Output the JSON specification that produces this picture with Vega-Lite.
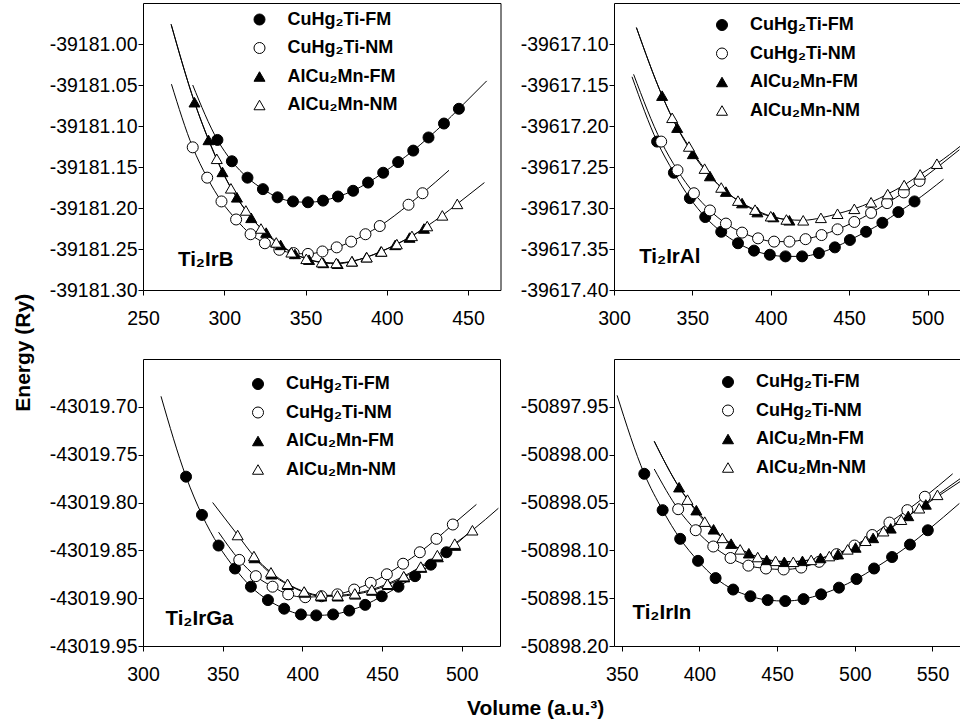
{
  "$schema": "https://vega.github.io/schema/vega-lite/v6.json",
  "background": "white",
  "padding": {"left": 12, "top": 2, "right": 0, "bottom": 0},
  "autosize": {"type": "pad"},
  "datasets": {
    "d": [
      {"p":"B","s":"CuHg₂Ti-FM","k":"x","v":280.6,"e":-39181.050},
      {"p":"B","s":"CuHg₂Ti-FM","k":"pt","v":295.8,"e":-39181.117},
      {"p":"B","s":"CuHg₂Ti-FM","k":"pt","v":304.7,"e":-39181.143},
      {"p":"B","s":"CuHg₂Ti-FM","k":"pt","v":314.3,"e":-39181.163},
      {"p":"B","s":"CuHg₂Ti-FM","k":"pt","v":323.8,"e":-39181.177},
      {"p":"B","s":"CuHg₂Ti-FM","k":"pt","v":332.8,"e":-39181.187},
      {"p":"B","s":"CuHg₂Ti-FM","k":"pt","v":342.3,"e":-39181.192},
      {"p":"B","s":"CuHg₂Ti-FM","k":"pt","v":351.5,"e":-39181.193},
      {"p":"B","s":"CuHg₂Ti-FM","k":"pt","v":360.8,"e":-39181.191},
      {"p":"B","s":"CuHg₂Ti-FM","k":"pt","v":370.0,"e":-39181.186},
      {"p":"B","s":"CuHg₂Ti-FM","k":"pt","v":379.3,"e":-39181.179},
      {"p":"B","s":"CuHg₂Ti-FM","k":"pt","v":388.5,"e":-39181.169},
      {"p":"B","s":"CuHg₂Ti-FM","k":"pt","v":397.8,"e":-39181.157},
      {"p":"B","s":"CuHg₂Ti-FM","k":"pt","v":407.0,"e":-39181.144},
      {"p":"B","s":"CuHg₂Ti-FM","k":"pt","v":416.3,"e":-39181.130},
      {"p":"B","s":"CuHg₂Ti-FM","k":"pt","v":425.7,"e":-39181.114},
      {"p":"B","s":"CuHg₂Ti-FM","k":"pt","v":435.2,"e":-39181.097},
      {"p":"B","s":"CuHg₂Ti-FM","k":"pt","v":444.4,"e":-39181.079},
      {"p":"B","s":"CuHg₂Ti-FM","k":"x","v":461.5,"e":-39181.045},

      {"p":"B","s":"CuHg₂Ti-NM","k":"x","v":267.5,"e":-39181.049},
      {"p":"B","s":"CuHg₂Ti-NM","k":"pt","v":280.6,"e":-39181.126},
      {"p":"B","s":"CuHg₂Ti-NM","k":"pt","v":289.5,"e":-39181.163},
      {"p":"B","s":"CuHg₂Ti-NM","k":"pt","v":298.3,"e":-39181.192},
      {"p":"B","s":"CuHg₂Ti-NM","k":"pt","v":307.3,"e":-39181.214},
      {"p":"B","s":"CuHg₂Ti-NM","k":"pt","v":316.2,"e":-39181.232},
      {"p":"B","s":"CuHg₂Ti-NM","k":"pt","v":325.0,"e":-39181.243},
      {"p":"B","s":"CuHg₂Ti-NM","k":"pt","v":333.9,"e":-39181.251},
      {"p":"B","s":"CuHg₂Ti-NM","k":"pt","v":342.7,"e":-39181.255},
      {"p":"B","s":"CuHg₂Ti-NM","k":"pt","v":351.5,"e":-39181.256},
      {"p":"B","s":"CuHg₂Ti-NM","k":"pt","v":360.4,"e":-39181.253},
      {"p":"B","s":"CuHg₂Ti-NM","k":"pt","v":369.2,"e":-39181.248},
      {"p":"B","s":"CuHg₂Ti-NM","k":"pt","v":378.1,"e":-39181.241},
      {"p":"B","s":"CuHg₂Ti-NM","k":"pt","v":386.9,"e":-39181.232},
      {"p":"B","s":"CuHg₂Ti-NM","k":"pt","v":395.7,"e":-39181.222},
      {"p":"B","s":"CuHg₂Ti-NM","k":"pt","v":413.4,"e":-39181.196},
      {"p":"B","s":"CuHg₂Ti-NM","k":"pt","v":422.0,"e":-39181.182},
      {"p":"B","s":"CuHg₂Ti-NM","k":"x","v":438.3,"e":-39181.154},

      {"p":"B","s":"AlCu₂Mn-FM","k":"x","v":267.3,"e":-39180.976},
      {"p":"B","s":"AlCu₂Mn-FM","k":"pt","v":281.7,"e":-39181.071},
      {"p":"B","s":"AlCu₂Mn-FM","k":"pt","v":290.3,"e":-39181.117},
      {"p":"B","s":"AlCu₂Mn-FM","k":"pt","v":298.9,"e":-39181.156},
      {"p":"B","s":"AlCu₂Mn-FM","k":"pt","v":307.8,"e":-39181.187},
      {"p":"B","s":"AlCu₂Mn-FM","k":"pt","v":316.6,"e":-39181.212},
      {"p":"B","s":"AlCu₂Mn-FM","k":"pt","v":325.8,"e":-39181.230},
      {"p":"B","s":"AlCu₂Mn-FM","k":"pt","v":334.7,"e":-39181.245},
      {"p":"B","s":"AlCu₂Mn-FM","k":"pt","v":343.5,"e":-39181.256},
      {"p":"B","s":"AlCu₂Mn-FM","k":"pt","v":352.2,"e":-39181.263},
      {"p":"B","s":"AlCu₂Mn-FM","k":"pt","v":361.0,"e":-39181.267},
      {"p":"B","s":"AlCu₂Mn-FM","k":"pt","v":369.8,"e":-39181.268},
      {"p":"B","s":"AlCu₂Mn-FM","k":"pt","v":378.7,"e":-39181.265},
      {"p":"B","s":"AlCu₂Mn-FM","k":"pt","v":387.5,"e":-39181.260},
      {"p":"B","s":"AlCu₂Mn-FM","k":"pt","v":396.4,"e":-39181.253},
      {"p":"B","s":"AlCu₂Mn-FM","k":"pt","v":405.2,"e":-39181.245},
      {"p":"B","s":"AlCu₂Mn-FM","k":"pt","v":414.0,"e":-39181.236},
      {"p":"B","s":"AlCu₂Mn-FM","k":"pt","v":422.9,"e":-39181.225},

      {"p":"B","s":"AlCu₂Mn-NM","k":"x","v":267.3,"e":-39180.976},
      {"p":"B","s":"AlCu₂Mn-NM","k":"x","v":281.7,"e":-39181.071},
      {"p":"B","s":"AlCu₂Mn-NM","k":"pt","v":295.4,"e":-39181.140},
      {"p":"B","s":"AlCu₂Mn-NM","k":"pt","v":304.1,"e":-39181.176},
      {"p":"B","s":"AlCu₂Mn-NM","k":"pt","v":313.3,"e":-39181.203},
      {"p":"B","s":"AlCu₂Mn-NM","k":"pt","v":322.6,"e":-39181.225},
      {"p":"B","s":"AlCu₂Mn-NM","k":"pt","v":332.0,"e":-39181.242},
      {"p":"B","s":"AlCu₂Mn-NM","k":"pt","v":341.3,"e":-39181.254},
      {"p":"B","s":"AlCu₂Mn-NM","k":"pt","v":350.5,"e":-39181.262},
      {"p":"B","s":"AlCu₂Mn-NM","k":"pt","v":360.0,"e":-39181.266},
      {"p":"B","s":"AlCu₂Mn-NM","k":"pt","v":369.0,"e":-39181.267},
      {"p":"B","s":"AlCu₂Mn-NM","k":"pt","v":378.5,"e":-39181.265},
      {"p":"B","s":"AlCu₂Mn-NM","k":"pt","v":387.7,"e":-39181.260},
      {"p":"B","s":"AlCu₂Mn-NM","k":"pt","v":396.8,"e":-39181.253},
      {"p":"B","s":"AlCu₂Mn-NM","k":"pt","v":406.2,"e":-39181.244},
      {"p":"B","s":"AlCu₂Mn-NM","k":"pt","v":415.5,"e":-39181.234},
      {"p":"B","s":"AlCu₂Mn-NM","k":"pt","v":424.9,"e":-39181.222},
      {"p":"B","s":"AlCu₂Mn-NM","k":"pt","v":434.2,"e":-39181.209},
      {"p":"B","s":"AlCu₂Mn-NM","k":"pt","v":443.4,"e":-39181.195},
      {"p":"B","s":"AlCu₂Mn-NM","k":"x","v":460.1,"e":-39181.169},

      {"p":"Al","s":"CuHg₂Ti-FM","k":"x","v":311.5,"e":-39617.140},
      {"p":"Al","s":"CuHg₂Ti-FM","k":"pt","v":327.5,"e":-39617.219},
      {"p":"Al","s":"CuHg₂Ti-FM","k":"pt","v":338.2,"e":-39617.257},
      {"p":"Al","s":"CuHg₂Ti-FM","k":"pt","v":348.4,"e":-39617.288},
      {"p":"Al","s":"CuHg₂Ti-FM","k":"pt","v":358.2,"e":-39617.311},
      {"p":"Al","s":"CuHg₂Ti-FM","k":"pt","v":368.4,"e":-39617.329},
      {"p":"Al","s":"CuHg₂Ti-FM","k":"pt","v":379.1,"e":-39617.343},
      {"p":"Al","s":"CuHg₂Ti-FM","k":"pt","v":389.3,"e":-39617.352},
      {"p":"Al","s":"CuHg₂Ti-FM","k":"pt","v":399.4,"e":-39617.357},
      {"p":"Al","s":"CuHg₂Ti-FM","k":"pt","v":409.4,"e":-39617.359},
      {"p":"Al","s":"CuHg₂Ti-FM","k":"pt","v":420.0,"e":-39617.359},
      {"p":"Al","s":"CuHg₂Ti-FM","k":"pt","v":430.7,"e":-39617.355},
      {"p":"Al","s":"CuHg₂Ti-FM","k":"pt","v":440.9,"e":-39617.348},
      {"p":"Al","s":"CuHg₂Ti-FM","k":"pt","v":450.5,"e":-39617.339},
      {"p":"Al","s":"CuHg₂Ti-FM","k":"pt","v":460.8,"e":-39617.329},
      {"p":"Al","s":"CuHg₂Ti-FM","k":"pt","v":471.2,"e":-39617.318},
      {"p":"Al","s":"CuHg₂Ti-FM","k":"pt","v":481.4,"e":-39617.305},
      {"p":"Al","s":"CuHg₂Ti-FM","k":"pt","v":491.7,"e":-39617.292},
      {"p":"Al","s":"CuHg₂Ti-FM","k":"x","v":510.2,"e":-39617.265},

      {"p":"Al","s":"CuHg₂Ti-NM","k":"x","v":312.5,"e":-39617.137},
      {"p":"Al","s":"CuHg₂Ti-NM","k":"pt","v":330.1,"e":-39617.219},
      {"p":"Al","s":"CuHg₂Ti-NM","k":"pt","v":340.5,"e":-39617.254},
      {"p":"Al","s":"CuHg₂Ti-NM","k":"pt","v":351.0,"e":-39617.282},
      {"p":"Al","s":"CuHg₂Ti-NM","k":"pt","v":361.2,"e":-39617.303},
      {"p":"Al","s":"CuHg₂Ti-NM","k":"pt","v":371.4,"e":-39617.319},
      {"p":"Al","s":"CuHg₂Ti-NM","k":"pt","v":381.7,"e":-39617.330},
      {"p":"Al","s":"CuHg₂Ti-NM","k":"pt","v":391.9,"e":-39617.337},
      {"p":"Al","s":"CuHg₂Ti-NM","k":"pt","v":402.1,"e":-39617.341},
      {"p":"Al","s":"CuHg₂Ti-NM","k":"pt","v":411.9,"e":-39617.341},
      {"p":"Al","s":"CuHg₂Ti-NM","k":"pt","v":422.2,"e":-39617.338},
      {"p":"Al","s":"CuHg₂Ti-NM","k":"pt","v":432.4,"e":-39617.333},
      {"p":"Al","s":"CuHg₂Ti-NM","k":"pt","v":442.6,"e":-39617.326},
      {"p":"Al","s":"CuHg₂Ti-NM","k":"pt","v":453.3,"e":-39617.317},
      {"p":"Al","s":"CuHg₂Ti-NM","k":"pt","v":464.0,"e":-39617.306},
      {"p":"Al","s":"CuHg₂Ti-NM","k":"pt","v":474.2,"e":-39617.294},
      {"p":"Al","s":"CuHg₂Ti-NM","k":"pt","v":484.9,"e":-39617.281},
      {"p":"Al","s":"CuHg₂Ti-NM","k":"pt","v":494.9,"e":-39617.267},
      {"p":"Al","s":"CuHg₂Ti-NM","k":"x","v":520.3,"e":-39617.229},

      {"p":"Al","s":"AlCu₂Mn-FM","k":"x","v":314.3,"e":-39617.080},
      {"p":"Al","s":"AlCu₂Mn-FM","k":"pt","v":330.7,"e":-39617.163},
      {"p":"Al","s":"AlCu₂Mn-FM","k":"pt","v":340.3,"e":-39617.202},
      {"p":"Al","s":"AlCu₂Mn-FM","k":"pt","v":350.3,"e":-39617.234},
      {"p":"Al","s":"AlCu₂Mn-FM","k":"pt","v":361.2,"e":-39617.261},
      {"p":"Al","s":"AlCu₂Mn-FM","k":"pt","v":371.4,"e":-39617.280},
      {"p":"Al","s":"AlCu₂Mn-FM","k":"pt","v":381.7,"e":-39617.294},
      {"p":"Al","s":"AlCu₂Mn-FM","k":"pt","v":391.5,"e":-39617.305},
      {"p":"Al","s":"AlCu₂Mn-FM","k":"pt","v":401.7,"e":-39617.311},
      {"p":"Al","s":"AlCu₂Mn-FM","k":"pt","v":411.9,"e":-39617.315},

      {"p":"Al","s":"AlCu₂Mn-NM","k":"x","v":314.3,"e":-39617.080},
      {"p":"Al","s":"AlCu₂Mn-NM","k":"x","v":330.7,"e":-39617.163},
      {"p":"Al","s":"AlCu₂Mn-NM","k":"pt","v":337.1,"e":-39617.190},
      {"p":"Al","s":"AlCu₂Mn-NM","k":"pt","v":347.8,"e":-39617.225},
      {"p":"Al","s":"AlCu₂Mn-NM","k":"pt","v":357.8,"e":-39617.252},
      {"p":"Al","s":"AlCu₂Mn-NM","k":"pt","v":368.4,"e":-39617.275},
      {"p":"Al","s":"AlCu₂Mn-NM","k":"pt","v":379.1,"e":-39617.291},
      {"p":"Al","s":"AlCu₂Mn-NM","k":"pt","v":390.0,"e":-39617.302},
      {"p":"Al","s":"AlCu₂Mn-NM","k":"pt","v":400.0,"e":-39617.310},
      {"p":"Al","s":"AlCu₂Mn-NM","k":"pt","v":410.0,"e":-39617.314},
      {"p":"Al","s":"AlCu₂Mn-NM","k":"pt","v":420.7,"e":-39617.315},
      {"p":"Al","s":"AlCu₂Mn-NM","k":"pt","v":432.0,"e":-39617.312},
      {"p":"Al","s":"AlCu₂Mn-NM","k":"pt","v":442.6,"e":-39617.307},
      {"p":"Al","s":"AlCu₂Mn-NM","k":"pt","v":453.3,"e":-39617.301},
      {"p":"Al","s":"AlCu₂Mn-NM","k":"pt","v":464.0,"e":-39617.293},
      {"p":"Al","s":"AlCu₂Mn-NM","k":"pt","v":474.6,"e":-39617.283},
      {"p":"Al","s":"AlCu₂Mn-NM","k":"pt","v":485.1,"e":-39617.272},
      {"p":"Al","s":"AlCu₂Mn-NM","k":"pt","v":495.3,"e":-39617.259},
      {"p":"Al","s":"AlCu₂Mn-NM","k":"pt","v":506.0,"e":-39617.246},
      {"p":"Al","s":"AlCu₂Mn-NM","k":"x","v":522.0,"e":-39617.223},

      {"p":"Ga","s":"CuHg₂Ti-FM","k":"x","v":311.3,"e":-43019.689},
      {"p":"Ga","s":"CuHg₂Ti-FM","k":"pt","v":327.0,"e":-43019.773},
      {"p":"Ga","s":"CuHg₂Ti-FM","k":"pt","v":337.0,"e":-43019.813},
      {"p":"Ga","s":"CuHg₂Ti-FM","k":"pt","v":347.4,"e":-43019.845},
      {"p":"Ga","s":"CuHg₂Ti-FM","k":"pt","v":357.7,"e":-43019.869},
      {"p":"Ga","s":"CuHg₂Ti-FM","k":"pt","v":367.7,"e":-43019.888},
      {"p":"Ga","s":"CuHg₂Ti-FM","k":"pt","v":378.4,"e":-43019.902},
      {"p":"Ga","s":"CuHg₂Ti-FM","k":"pt","v":388.6,"e":-43019.911},
      {"p":"Ga","s":"CuHg₂Ti-FM","k":"pt","v":399.1,"e":-43019.917},
      {"p":"Ga","s":"CuHg₂Ti-FM","k":"pt","v":408.7,"e":-43019.918},
      {"p":"Ga","s":"CuHg₂Ti-FM","k":"pt","v":419.3,"e":-43019.917},
      {"p":"Ga","s":"CuHg₂Ti-FM","k":"pt","v":429.4,"e":-43019.913},
      {"p":"Ga","s":"CuHg₂Ti-FM","k":"pt","v":439.4,"e":-43019.907},
      {"p":"Ga","s":"CuHg₂Ti-FM","k":"pt","v":449.8,"e":-43019.898},
      {"p":"Ga","s":"CuHg₂Ti-FM","k":"pt","v":460.3,"e":-43019.888},
      {"p":"Ga","s":"CuHg₂Ti-FM","k":"pt","v":470.7,"e":-43019.877},
      {"p":"Ga","s":"CuHg₂Ti-FM","k":"pt","v":480.6,"e":-43019.865},
      {"p":"Ga","s":"CuHg₂Ti-FM","k":"pt","v":490.4,"e":-43019.852},
      {"p":"Ga","s":"CuHg₂Ti-FM","k":"x","v":505.0,"e":-43019.831},

      {"p":"Ga","s":"CuHg₂Ti-NM","k":"x","v":347.4,"e":-43019.831},
      {"p":"Ga","s":"CuHg₂Ti-NM","k":"pt","v":360.4,"e":-43019.860},
      {"p":"Ga","s":"CuHg₂Ti-NM","k":"pt","v":370.8,"e":-43019.877},
      {"p":"Ga","s":"CuHg₂Ti-NM","k":"pt","v":381.3,"e":-43019.888},
      {"p":"Ga","s":"CuHg₂Ti-NM","k":"pt","v":391.1,"e":-43019.896},
      {"p":"Ga","s":"CuHg₂Ti-NM","k":"pt","v":401.8,"e":-43019.899},
      {"p":"Ga","s":"CuHg₂Ti-NM","k":"pt","v":412.0,"e":-43019.898},
      {"p":"Ga","s":"CuHg₂Ti-NM","k":"pt","v":422.0,"e":-43019.896},
      {"p":"Ga","s":"CuHg₂Ti-NM","k":"pt","v":432.5,"e":-43019.891},
      {"p":"Ga","s":"CuHg₂Ti-NM","k":"pt","v":442.9,"e":-43019.884},
      {"p":"Ga","s":"CuHg₂Ti-NM","k":"pt","v":453.0,"e":-43019.875},
      {"p":"Ga","s":"CuHg₂Ti-NM","k":"pt","v":463.2,"e":-43019.864},
      {"p":"Ga","s":"CuHg₂Ti-NM","k":"pt","v":473.7,"e":-43019.852},
      {"p":"Ga","s":"CuHg₂Ti-NM","k":"pt","v":484.1,"e":-43019.838},
      {"p":"Ga","s":"CuHg₂Ti-NM","k":"pt","v":494.4,"e":-43019.823},
      {"p":"Ga","s":"CuHg₂Ti-NM","k":"x","v":509.2,"e":-43019.802},

      {"p":"Ga","s":"AlCu₂Mn-FM","k":"pt","v":370.0,"e":-43019.858},
      {"p":"Ga","s":"AlCu₂Mn-FM","k":"pt","v":380.6,"e":-43019.875},
      {"p":"Ga","s":"AlCu₂Mn-FM","k":"pt","v":391.0,"e":-43019.886},
      {"p":"Ga","s":"AlCu₂Mn-FM","k":"pt","v":401.4,"e":-43019.894},
      {"p":"Ga","s":"AlCu₂Mn-FM","k":"pt","v":411.9,"e":-43019.898},
      {"p":"Ga","s":"AlCu₂Mn-FM","k":"pt","v":422.3,"e":-43019.898},
      {"p":"Ga","s":"AlCu₂Mn-FM","k":"pt","v":433.2,"e":-43019.896},
      {"p":"Ga","s":"AlCu₂Mn-FM","k":"pt","v":443.9,"e":-43019.892},
      {"p":"Ga","s":"AlCu₂Mn-FM","k":"pt","v":453.7,"e":-43019.886},
      {"p":"Ga","s":"AlCu₂Mn-FM","k":"pt","v":463.9,"e":-43019.878},
      {"p":"Ga","s":"AlCu₂Mn-FM","k":"pt","v":474.6,"e":-43019.868},
      {"p":"Ga","s":"AlCu₂Mn-FM","k":"pt","v":485.0,"e":-43019.857},
      {"p":"Ga","s":"AlCu₂Mn-FM","k":"pt","v":495.9,"e":-43019.845},

      {"p":"Ga","s":"AlCu₂Mn-NM","k":"x","v":343.7,"e":-43019.800},
      {"p":"Ga","s":"AlCu₂Mn-NM","k":"pt","v":359.4,"e":-43019.834},
      {"p":"Ga","s":"AlCu₂Mn-NM","k":"pt","v":369.6,"e":-43019.856},
      {"p":"Ga","s":"AlCu₂Mn-NM","k":"pt","v":380.3,"e":-43019.873},
      {"p":"Ga","s":"AlCu₂Mn-NM","k":"pt","v":390.7,"e":-43019.885},
      {"p":"Ga","s":"AlCu₂Mn-NM","k":"pt","v":401.1,"e":-43019.893},
      {"p":"Ga","s":"AlCu₂Mn-NM","k":"pt","v":411.6,"e":-43019.897},
      {"p":"Ga","s":"AlCu₂Mn-NM","k":"pt","v":422.0,"e":-43019.897},
      {"p":"Ga","s":"AlCu₂Mn-NM","k":"pt","v":432.9,"e":-43019.895},
      {"p":"Ga","s":"AlCu₂Mn-NM","k":"pt","v":443.6,"e":-43019.891},
      {"p":"Ga","s":"AlCu₂Mn-NM","k":"pt","v":453.4,"e":-43019.885},
      {"p":"Ga","s":"AlCu₂Mn-NM","k":"pt","v":463.6,"e":-43019.877},
      {"p":"Ga","s":"AlCu₂Mn-NM","k":"pt","v":474.3,"e":-43019.867},
      {"p":"Ga","s":"AlCu₂Mn-NM","k":"pt","v":484.7,"e":-43019.855},
      {"p":"Ga","s":"AlCu₂Mn-NM","k":"pt","v":495.6,"e":-43019.843},
      {"p":"Ga","s":"AlCu₂Mn-NM","k":"pt","v":506.7,"e":-43019.829},
      {"p":"Ga","s":"AlCu₂Mn-NM","k":"x","v":523.0,"e":-43019.806},

      {"p":"In","s":"CuHg₂Ti-FM","k":"x","v":347.0,"e":-50897.938},
      {"p":"In","s":"CuHg₂Ti-FM","k":"pt","v":364.5,"e":-50898.020},
      {"p":"In","s":"CuHg₂Ti-FM","k":"pt","v":376.3,"e":-50898.058},
      {"p":"In","s":"CuHg₂Ti-FM","k":"pt","v":387.6,"e":-50898.088},
      {"p":"In","s":"CuHg₂Ti-FM","k":"pt","v":399.1,"e":-50898.111},
      {"p":"In","s":"CuHg₂Ti-FM","k":"pt","v":410.4,"e":-50898.129},
      {"p":"In","s":"CuHg₂Ti-FM","k":"pt","v":421.7,"e":-50898.141},
      {"p":"In","s":"CuHg₂Ti-FM","k":"pt","v":432.8,"e":-50898.148},
      {"p":"In","s":"CuHg₂Ti-FM","k":"pt","v":443.9,"e":-50898.152},
      {"p":"In","s":"CuHg₂Ti-FM","k":"pt","v":455.2,"e":-50898.153},
      {"p":"In","s":"CuHg₂Ti-FM","k":"pt","v":467.0,"e":-50898.151},
      {"p":"In","s":"CuHg₂Ti-FM","k":"pt","v":478.3,"e":-50898.146},
      {"p":"In","s":"CuHg₂Ti-FM","k":"pt","v":489.8,"e":-50898.139},
      {"p":"In","s":"CuHg₂Ti-FM","k":"pt","v":501.1,"e":-50898.130},
      {"p":"In","s":"CuHg₂Ti-FM","k":"pt","v":512.4,"e":-50898.119},
      {"p":"In","s":"CuHg₂Ti-FM","k":"pt","v":524.0,"e":-50898.107},
      {"p":"In","s":"CuHg₂Ti-FM","k":"pt","v":535.5,"e":-50898.094},
      {"p":"In","s":"CuHg₂Ti-FM","k":"pt","v":547.0,"e":-50898.079},
      {"p":"In","s":"CuHg₂Ti-FM","k":"x","v":567.3,"e":-50898.051},

      {"p":"In","s":"CuHg₂Ti-NM","k":"x","v":370.9,"e":-50898.015},
      {"p":"In","s":"CuHg₂Ti-NM","k":"pt","v":386.3,"e":-50898.057},
      {"p":"In","s":"CuHg₂Ti-NM","k":"pt","v":397.6,"e":-50898.079},
      {"p":"In","s":"CuHg₂Ti-NM","k":"pt","v":408.9,"e":-50898.096},
      {"p":"In","s":"CuHg₂Ti-NM","k":"pt","v":420.0,"e":-50898.108},
      {"p":"In","s":"CuHg₂Ti-NM","k":"pt","v":431.5,"e":-50898.116},
      {"p":"In","s":"CuHg₂Ti-NM","k":"pt","v":442.8,"e":-50898.119},
      {"p":"In","s":"CuHg₂Ti-NM","k":"pt","v":454.2,"e":-50898.120},
      {"p":"In","s":"CuHg₂Ti-NM","k":"pt","v":465.5,"e":-50898.118},
      {"p":"In","s":"CuHg₂Ti-NM","k":"pt","v":477.0,"e":-50898.112},
      {"p":"In","s":"CuHg₂Ti-NM","k":"pt","v":488.3,"e":-50898.104},
      {"p":"In","s":"CuHg₂Ti-NM","k":"pt","v":499.8,"e":-50898.095},
      {"p":"In","s":"CuHg₂Ti-NM","k":"pt","v":511.2,"e":-50898.084},
      {"p":"In","s":"CuHg₂Ti-NM","k":"pt","v":522.3,"e":-50898.071},
      {"p":"In","s":"CuHg₂Ti-NM","k":"pt","v":533.8,"e":-50898.058},
      {"p":"In","s":"CuHg₂Ti-NM","k":"pt","v":545.1,"e":-50898.044},
      {"p":"In","s":"CuHg₂Ti-NM","k":"x","v":563.0,"e":-50898.020},

      {"p":"In","s":"AlCu₂Mn-FM","k":"x","v":370.9,"e":-50897.986},
      {"p":"In","s":"AlCu₂Mn-FM","k":"pt","v":386.9,"e":-50898.034},
      {"p":"In","s":"AlCu₂Mn-FM","k":"pt","v":398.0,"e":-50898.058},
      {"p":"In","s":"AlCu₂Mn-FM","k":"pt","v":409.1,"e":-50898.078},
      {"p":"In","s":"AlCu₂Mn-FM","k":"pt","v":420.4,"e":-50898.093},
      {"p":"In","s":"AlCu₂Mn-FM","k":"pt","v":431.8,"e":-50898.103},
      {"p":"In","s":"AlCu₂Mn-FM","k":"pt","v":443.3,"e":-50898.110},
      {"p":"In","s":"AlCu₂Mn-FM","k":"pt","v":454.6,"e":-50898.112},
      {"p":"In","s":"AlCu₂Mn-FM","k":"pt","v":466.3,"e":-50898.111},
      {"p":"In","s":"AlCu₂Mn-FM","k":"pt","v":477.9,"e":-50898.108},
      {"p":"In","s":"AlCu₂Mn-FM","k":"pt","v":489.2,"e":-50898.104},
      {"p":"In","s":"AlCu₂Mn-FM","k":"pt","v":500.5,"e":-50898.097},
      {"p":"In","s":"AlCu₂Mn-FM","k":"pt","v":511.8,"e":-50898.087},
      {"p":"In","s":"AlCu₂Mn-FM","k":"pt","v":523.1,"e":-50898.077},
      {"p":"In","s":"AlCu₂Mn-FM","k":"pt","v":534.4,"e":-50898.064},
      {"p":"In","s":"AlCu₂Mn-FM","k":"pt","v":545.7,"e":-50898.052},
      {"p":"In","s":"AlCu₂Mn-FM","k":"x","v":568.8,"e":-50898.027},

      {"p":"In","s":"AlCu₂Mn-NM","k":"x","v":370.9,"e":-50897.986},
      {"p":"In","s":"AlCu₂Mn-NM","k":"x","v":386.9,"e":-50898.034},
      {"p":"In","s":"AlCu₂Mn-NM","k":"pt","v":392.3,"e":-50898.047},
      {"p":"In","s":"AlCu₂Mn-NM","k":"pt","v":403.4,"e":-50898.070},
      {"p":"In","s":"AlCu₂Mn-NM","k":"pt","v":414.7,"e":-50898.087},
      {"p":"In","s":"AlCu₂Mn-NM","k":"pt","v":426.2,"e":-50898.099},
      {"p":"In","s":"AlCu₂Mn-NM","k":"pt","v":437.5,"e":-50898.107},
      {"p":"In","s":"AlCu₂Mn-NM","k":"pt","v":449.0,"e":-50898.111},
      {"p":"In","s":"AlCu₂Mn-NM","k":"pt","v":460.4,"e":-50898.112},
      {"p":"In","s":"AlCu₂Mn-NM","k":"pt","v":471.9,"e":-50898.110},
      {"p":"In","s":"AlCu₂Mn-NM","k":"pt","v":483.6,"e":-50898.106},
      {"p":"In","s":"AlCu₂Mn-NM","k":"pt","v":495.4,"e":-50898.099},
      {"p":"In","s":"AlCu₂Mn-NM","k":"pt","v":506.9,"e":-50898.090},
      {"p":"In","s":"AlCu₂Mn-NM","k":"pt","v":518.4,"e":-50898.080},
      {"p":"In","s":"AlCu₂Mn-NM","k":"pt","v":529.9,"e":-50898.068},
      {"p":"In","s":"AlCu₂Mn-NM","k":"pt","v":541.5,"e":-50898.056},
      {"p":"In","s":"AlCu₂Mn-NM","k":"pt","v":553.2,"e":-50898.042},
      {"p":"In","s":"AlCu₂Mn-NM","k":"x","v":568.8,"e":-50898.024}
    ]
  },
  "title": {"text": "Energy (Ry)", "orient": "left", "anchor": "middle", "offset": 15, "dx": 8, "font": "Liberation Sans", "fontSize": 21, "fontWeight": "bold", "color": "black"},
  "resolve": {"scale": {"x": "independent", "y": "independent", "fill": "independent", "shape": "independent", "stroke": "independent"}, "axis": {"x": "independent", "y": "independent"}, "legend": {"fill": "independent", "shape": "independent", "stroke": "independent"}},
  "hconcat": [
    {
      "title": {"text": "Volume (a.u.³)", "orient": "bottom", "anchor": "middle", "offset": 14, "dx": 30, "font": "Liberation Sans", "fontSize": 21, "fontWeight": "bold", "color": "black"},
      "spacing": 30,
      "resolve": {"scale": {"x": "independent", "y": "independent", "fill": "independent", "shape": "independent", "stroke": "independent"}, "axis": {"x": "independent", "y": "independent"}, "legend": {"fill": "independent", "shape": "independent", "stroke": "independent"}},
      "vconcat": [
        {
          "spacing": 18,
          "resolve": {"scale": {"x": "independent", "y": "independent", "fill": "independent", "shape": "independent", "stroke": "independent"}, "axis": {"x": "independent", "y": "independent"}, "legend": {"fill": "independent", "shape": "independent", "stroke": "independent"}},
          "hconcat": [
            {
              "width": 357.5, "height": 287,
              "encoding": {
                "x": {"field": "v", "type": "quantitative", "scale": {"domain": [250, 470], "nice": false, "zero": false}, "axis": {"values": [250, 300, 350, 400, 450], "title": "Ti₂IrB", "titleX": 34.5, "titleY": -24.5}},
                "y": {"field": "e", "type": "quantitative", "scale": {"domain": [-39181.30, -39180.95], "nice": false, "zero": false}, "axis": {"values": [-39181.30, -39181.25, -39181.20, -39181.15, -39181.10, -39181.05, -39181.00], "format": ".2f", "title": null}}
              },
              "layer": [
                {"data": {"name": "d"}, "transform": [{"filter": "datum.p === 'B'"}],
                 "mark": {"type": "line", "interpolate": "monotone", "color": "black", "strokeWidth": 1, "clip": true},
                 "encoding": {"detail": {"field": "s"}}},
                {"data": {"name": "d"}, "transform": [{"filter": "datum.p === 'B' && datum.k === 'pt'"}],
                 "mark": {"type": "point", "filled": true, "strokeWidth": 1, "opacity": 1, "size": 121},
                 "encoding": {
                   "stroke": {"field": "s", "type": "nominal", "scale": {"domain": ["CuHg₂Ti-FM", "CuHg₂Ti-NM", "AlCu₂Mn-FM", "AlCu₂Mn-NM"], "range": ["black", "black", "black", "black"]}, "legend": {"title": null, "orient": "none", "legendX": 107.5, "legendY": 7.5}},
                   "shape": {"field": "s", "type": "nominal", "scale": {"domain": ["CuHg₂Ti-FM", "CuHg₂Ti-NM", "AlCu₂Mn-FM", "AlCu₂Mn-NM"], "range": ["circle", "circle", "triangle-up", "triangle-up"]}, "legend": {"title": null, "orient": "none", "legendX": 107.5, "legendY": 7.5}},
                   "fill": {"field": "s", "type": "nominal", "scale": {"domain": ["CuHg₂Ti-FM", "CuHg₂Ti-NM", "AlCu₂Mn-FM", "AlCu₂Mn-NM"], "range": ["black", "white", "black", "white"]}, "legend": {"title": null, "orient": "none", "legendX": 107.5, "legendY": 7.5}}
                 }}
              ]
            },
            {
              "width": 348, "height": 287,
              "encoding": {
                "x": {"field": "v", "type": "quantitative", "scale": {"domain": [300, 522], "nice": false, "zero": false}, "axis": {"values": [300, 350, 400, 450, 500], "title": "Ti₂IrAl", "titleX": 24.7, "titleY": -27.8}},
                "y": {"field": "e", "type": "quantitative", "scale": {"domain": [-39617.40, -39617.05], "nice": false, "zero": false}, "axis": {"values": [-39617.40, -39617.35, -39617.30, -39617.25, -39617.20, -39617.15, -39617.10], "format": ".2f", "title": null}}
              },
              "layer": [
                {"data": {"name": "d"}, "transform": [{"filter": "datum.p === 'Al'"}],
                 "mark": {"type": "line", "interpolate": "monotone", "color": "black", "strokeWidth": 1, "clip": true},
                 "encoding": {"detail": {"field": "s"}}},
                {"data": {"name": "d"}, "transform": [{"filter": "datum.p === 'Al' && datum.k === 'pt'"}],
                 "mark": {"type": "point", "filled": true, "strokeWidth": 1, "opacity": 1, "size": 121},
                 "encoding": {
                   "stroke": {"field": "s", "type": "nominal", "scale": {"domain": ["CuHg₂Ti-FM", "CuHg₂Ti-NM", "AlCu₂Mn-FM", "AlCu₂Mn-NM"], "range": ["black", "black", "black", "black"]}, "legend": {"title": null, "orient": "none", "legendX": 99, "legendY": 13}},
                   "shape": {"field": "s", "type": "nominal", "scale": {"domain": ["CuHg₂Ti-FM", "CuHg₂Ti-NM", "AlCu₂Mn-FM", "AlCu₂Mn-NM"], "range": ["circle", "circle", "triangle-up", "triangle-up"]}, "legend": {"title": null, "orient": "none", "legendX": 99, "legendY": 13}},
                   "fill": {"field": "s", "type": "nominal", "scale": {"domain": ["CuHg₂Ti-FM", "CuHg₂Ti-NM", "AlCu₂Mn-FM", "AlCu₂Mn-NM"], "range": ["black", "white", "black", "white"]}, "legend": {"title": null, "orient": "none", "legendX": 99, "legendY": 13}}
                 }}
              ]
            }
          ]
        },
        {
          "spacing": 18,
          "resolve": {"scale": {"x": "independent", "y": "independent", "fill": "independent", "shape": "independent", "stroke": "independent"}, "axis": {"x": "independent", "y": "independent"}, "legend": {"fill": "independent", "shape": "independent", "stroke": "independent"}},
          "hconcat": [
            {
              "width": 357, "height": 287,
              "encoding": {
                "x": {"field": "v", "type": "quantitative", "scale": {"domain": [300, 524], "nice": false, "zero": false}, "axis": {"values": [300, 350, 400, 450, 500], "title": "Ti₂IrGa", "titleX": 22, "titleY": -21.7}},
                "y": {"field": "e", "type": "quantitative", "scale": {"domain": [-43019.95, -43019.65], "nice": false, "zero": false}, "axis": {"values": [-43019.95, -43019.90, -43019.85, -43019.80, -43019.75, -43019.70], "format": ".2f", "title": null}}
              },
              "layer": [
                {"data": {"name": "d"}, "transform": [{"filter": "datum.p === 'Ga'"}],
                 "mark": {"type": "line", "interpolate": "monotone", "color": "black", "strokeWidth": 1, "clip": true},
                 "encoding": {"detail": {"field": "s"}}},
                {"data": {"name": "d"}, "transform": [{"filter": "datum.p === 'Ga' && datum.k === 'pt'"}],
                 "mark": {"type": "point", "filled": true, "strokeWidth": 1, "opacity": 1, "size": 121},
                 "encoding": {
                   "stroke": {"field": "s", "type": "nominal", "scale": {"domain": ["CuHg₂Ti-FM", "CuHg₂Ti-NM", "AlCu₂Mn-FM", "AlCu₂Mn-NM"], "range": ["black", "black", "black", "black"]}, "legend": {"title": null, "orient": "none", "legendX": 106, "legendY": 16}},
                   "shape": {"field": "s", "type": "nominal", "scale": {"domain": ["CuHg₂Ti-FM", "CuHg₂Ti-NM", "AlCu₂Mn-FM", "AlCu₂Mn-NM"], "range": ["circle", "circle", "triangle-up", "triangle-up"]}, "legend": {"title": null, "orient": "none", "legendX": 106, "legendY": 16}},
                   "fill": {"field": "s", "type": "nominal", "scale": {"domain": ["CuHg₂Ti-FM", "CuHg₂Ti-NM", "AlCu₂Mn-FM", "AlCu₂Mn-NM"], "range": ["black", "white", "black", "white"]}, "legend": {"title": null, "orient": "none", "legendX": 106, "legendY": 16}}
                 }}
              ]
            },
            {
              "width": 348, "height": 287,
              "encoding": {
                "x": {"field": "v", "type": "quantitative", "scale": {"domain": [345, 569], "nice": false, "zero": false}, "axis": {"values": [350, 400, 450, 500, 550], "title": "Ti₂IrIn", "titleX": 18, "titleY": -27.7}},
                "y": {"field": "e", "type": "quantitative", "scale": {"domain": [-50898.20, -50897.90], "nice": false, "zero": false}, "axis": {"values": [-50898.20, -50898.15, -50898.10, -50898.05, -50898.00, -50897.95], "format": ".2f", "title": null}}
              },
              "layer": [
                {"data": {"name": "d"}, "transform": [{"filter": "datum.p === 'In'"}],
                 "mark": {"type": "line", "interpolate": "monotone", "color": "black", "strokeWidth": 1, "clip": true},
                 "encoding": {"detail": {"field": "s"}}},
                {"data": {"name": "d"}, "transform": [{"filter": "datum.p === 'In' && datum.k === 'pt'"}],
                 "mark": {"type": "point", "filled": true, "strokeWidth": 1, "opacity": 1, "size": 121},
                 "encoding": {
                   "stroke": {"field": "s", "type": "nominal", "scale": {"domain": ["CuHg₂Ti-FM", "CuHg₂Ti-NM", "AlCu₂Mn-FM", "AlCu₂Mn-NM"], "range": ["black", "black", "black", "black"]}, "legend": {"title": null, "orient": "none", "legendX": 105, "legendY": 14}},
                   "shape": {"field": "s", "type": "nominal", "scale": {"domain": ["CuHg₂Ti-FM", "CuHg₂Ti-NM", "AlCu₂Mn-FM", "AlCu₂Mn-NM"], "range": ["circle", "circle", "triangle-up", "triangle-up"]}, "legend": {"title": null, "orient": "none", "legendX": 105, "legendY": 14}},
                   "fill": {"field": "s", "type": "nominal", "scale": {"domain": ["CuHg₂Ti-FM", "CuHg₂Ti-NM", "AlCu₂Mn-FM", "AlCu₂Mn-NM"], "range": ["black", "white", "black", "white"]}, "legend": {"title": null, "orient": "none", "legendX": 105, "legendY": 14}}
                 }}
              ]
            }
          ]
        }
      ]
    }
  ],
  "config": {
    "font": "Liberation Sans",
    "locale": {"number": {"decimal": ".", "thousands": ",", "grouping": [3], "currency": ["$", ""], "minus": "-"}},
    "view": {"stroke": "black", "strokeWidth": 1, "fill": "white"},
    "axis": {"domain": false, "grid": false, "ticks": true, "tickColor": "black", "tickSize": 5, "tickWidth": 1, "labelColor": "black", "labelFont": "Liberation Sans", "labelFontSize": 19.5, "labelFlush": false, "labelOverlap": false, "labelBound": false},
    "axisX": {"labelPadding": 14, "titleFont": "Liberation Sans", "titleFontSize": 20.5, "titleFontWeight": "bold", "titleColor": "black", "titleAlign": "left", "titleBaseline": "alphabetic", "titleAnchor": "start", "titleAngle": 0},
    "axisY": {"labelPadding": 1},
    "legend": {"padding": 0, "labelFont": "Liberation Sans", "labelFontSize": 18, "labelFontWeight": "bold", "labelColor": "black", "symbolSize": 121, "symbolStrokeWidth": 1, "symbolOpacity": 1, "rowPadding": 10.5, "labelOffset": 19, "labelLimit": 300}
  }
}
